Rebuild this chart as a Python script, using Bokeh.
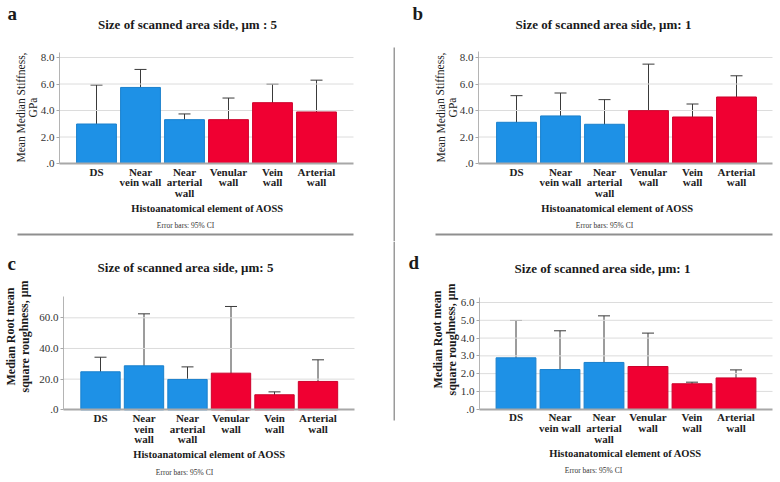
from bokeh.plotting import figure
from bokeh.models import (ColumnDataSource, Range1d, Whisker, TeeHead, Label,
                          BoxAnnotation, FixedTicker, LinearAxis)
from bokeh.layouts import column, row
from bokeh.embed import file_html
from bokeh.resources import INLINE

# ---------------- data ----------------
cats_ab = ["DS", "Near\nvein wall", "Near\narterial\nwall", "Venular\nwall", "Vein\nwall", "Arterial\nwall"]
cats_c = ["DS", "Near\nvein\nwall", "Near\narterial\nwall", "Venular\nwall", "Vein\nwall", "Arterial\nwall"]
cats_d = ["DS", "Near\nvein wall", "Near\narterial\nwall", "Venular\nwall", "Vein\nwall", "Arterial\nwall"]
group_colors = ["#1e91e6", "#1e91e6", "#1e91e6", "#f00032", "#f00032", "#f00032"]
edge_colors = ["#1a80cc", "#1a80cc", "#1a80cc", "#cc002b", "#cc002b", "#cc002b"]

a_mean = [2.98, 5.74, 3.31, 3.31, 4.59, 3.89]
a_lo = [0.13, 4.39, 2.91, 1.68, 3.21, 1.48]
a_hi = [5.92, 7.10, 3.74, 4.94, 5.99, 6.29]

b_mean = [3.11, 3.59, 2.96, 3.99, 3.51, 5.02]
b_lo = [1.18, 1.86, 1.10, 0.55, 2.56, 3.41]
b_hi = [5.12, 5.32, 4.82, 7.50, 4.49, 6.62]

c_mean = [24.8, 28.7, 19.8, 23.9, 9.8, 18.5]
c_lo = [15.6, 0.0, 11.7, 0.0, 8.0, 4.1]
c_hi = [34.3, 62.6, 28.0, 67.4, 11.7, 32.6]

d_mean = [2.89, 2.23, 2.63, 2.40, 1.43, 1.76]
d_lo = [0.81, 0.08, 0.0, 0.53, 1.37, 1.31]
d_hi = [4.99, 4.41, 5.25, 4.28, 1.52, 2.21]

ticks_ab = [0, 2, 4, 6, 8]
labels_ab = [".0", "2.0", "4.0", "6.0", "8.0"]
ticks_c = [0, 20, 40, 60]
labels_c = [".0", "20.0", "40.0", "60.0"]
ticks_d = [0, 1, 2, 3, 4, 5, 6]
labels_d = [".0", "1.0", "2.0", "3.0", "4.0", "5.0", "6.0"]

title_5a = "Size of scanned area side, \u03bcm : 5"
title_5c = "Size of scanned area side, \u03bcm: 5"
title_1 = "Size of scanned area side, \u03bcm: 1"
ylab_ab = "Mean Median Stiffness,\nGPa"
ylab_cd = "Median Root mean\nsquare roughness, \u03bcm"
xlab = "Histoanatomical element of AOSS"
note = "Error bars: 95% CI"

FONT = "Liberation Serif"


def panel(origin, size, cats, mean, lo, hi, ticks, tick_labels, geo, texts, ybold,
          rule=None, divider=None):
    # all layout positions given in page pixels; converted to this figure's frame
    ox, oy = origin
    W, H = size
    cx0, step, axis_px, right_px, y0_px, ppu, top_px = geo
    cx0 -= ox
    axis_px -= ox
    right_px -= ox
    y0_px -= oy
    top_px -= oy
    x_start = -cx0 / step
    x_end = (W - cx0) / step
    y_start = -(H - y0_px) / ppu
    y_end = y0_px / ppu
    x_axis_at = (axis_px - cx0) / step
    x_right = (right_px - cx0) / step
    y_top = (y0_px - top_px) / ppu

    def sx(px):
        return px - ox

    def sy(py):
        return H - (py - oy)

    p = figure(width=W, height=H, x_range=Range1d(x_start, x_end), y_range=Range1d(y_start, y_end),
               output_backend="svg", toolbar_location=None, min_border=0,
               x_axis_location=None, y_axis_location=None)
    p.outline_line_color = None
    p.background_fill_color = "white"
    p.border_fill_color = "white"
    p.xgrid.visible = False
    p.ygrid.visible = False

    xs = list(range(len(cats)))
    gt = [t for t in ticks if t != 0]
    p.segment(x0=[x_axis_at] * len(gt), x1=[x_right] * len(gt), y0=gt, y1=gt,
              line_color="#dcdcdc", line_width=1)

    src = ColumnDataSource(dict(x=xs, top=mean, lower=lo, upper=hi,
                                color=group_colors, edge=edge_colors))
    p.vbar(x="x", top="top", width=0.905, source=src, fill_color="color",
           line_color="edge", line_width=1)
    w = Whisker(source=src, base="x", upper="upper", lower="lower",
                line_color="#3a3a3a", line_width=1,
                upper_head=TeeHead(size=12, line_color="#3a3a3a", line_width=1),
                lower_head=TeeHead(size=12, line_color="#3a3a3a", line_width=1))
    p.add_layout(w)

    yaxis = LinearAxis(fixed_location=x_axis_at, bounds=(0, y_top),
                       ticker=FixedTicker(ticks=ticks),
                       major_label_overrides={t: s for t, s in zip(ticks, tick_labels)})
    yaxis.minor_tick_line_color = None
    yaxis.major_tick_out = 3
    yaxis.major_tick_in = 0
    yaxis.major_tick_line_color = "#a8a8a8"
    yaxis.axis_line_color = "#b4b4b4"
    yaxis.major_label_standoff = 2
    yaxis.major_label_text_font = FONT
    yaxis.major_label_text_font_size = "11px"
    yaxis.major_label_text_color = "#333333"
    p.add_layout(yaxis, "left")

    xaxis = LinearAxis(fixed_location=0, bounds=(x_axis_at, x_right),
                       ticker=FixedTicker(ticks=xs),
                       major_label_overrides={i: c for i, c in zip(xs, cats)})
    xaxis.axis_line_color = "#a8a8a8"
    xaxis.axis_line_width = 2
    xaxis.major_tick_line_color = None
    xaxis.major_tick_out = 0
    xaxis.major_tick_in = 0
    xaxis.minor_tick_line_color = None
    xaxis.major_label_standoff = 2
    xaxis.major_label_text_font = FONT
    xaxis.major_label_text_font_size = "11px"
    xaxis.major_label_text_font_style = "bold"
    xaxis.major_label_text_color = "#222222"
    xaxis.major_label_text_line_height = 0.9
    p.add_layout(xaxis, "below")

    def lab(text, pos, size, style, align="center", baseline="alphabetic", angle=0.0, color="#1a1a1a"):
        p.add_layout(Label(x=sx(pos[0]), y=sy(pos[1]), x_units="screen", y_units="screen", text=text,
                           text_font=FONT, text_font_size=size, text_font_style=style,
                           text_align=align, text_baseline=baseline, angle=angle,
                           text_color=color, text_line_height=1.0))

    letter, lpos, title, tpos, ylab, ypos, xpos, npos = texts
    lab(letter, lpos, "19px", "bold", align="left")
    lab(title, tpos, "13px", "bold")
    lab(ylab, ypos, "12px" if ybold else "11.5px", "bold" if ybold else "normal",
        baseline="middle", angle=1.5708)
    lab(xlab, xpos, "10.5px", "bold")
    lab(note, npos, "7.5px", "normal", color="#333333")

    if rule is not None:
        x0, x1, y = rule
        p.add_layout(BoxAnnotation(left=sx(x0), right=sx(x1), top=sy(y) + 1, bottom=sy(y) - 1,
                                   left_units="screen", right_units="screen",
                                   top_units="screen", bottom_units="screen",
                                   fill_color="#8f8f8f", fill_alpha=1.0, line_alpha=0.0))
    if divider is not None:
        x, y0, y1 = divider
        p.add_layout(BoxAnnotation(left=sx(x), right=sx(x) + 1.5, top=sy(y0), bottom=sy(y1),
                                   left_units="screen", right_units="screen",
                                   top_units="screen", bottom_units="screen",
                                   fill_color="#9a9a9a", fill_alpha=1.0, line_alpha=0.0))
    return p


# geo = (first bar centre x, px per category, y-axis x, right edge x, y=0 y, px per unit, axis top y)
pa = panel((0, 0), (390, 241), cats_ab, a_mean, a_lo, a_hi, ticks_ab, labels_ab,
           (96, 44, 59, 353, 163, 13.25, 52),
           ("a", (7, 13), title_5a, (187, 24), ylab_ab, (26.5, 107), (207, 208), (185, 225)),
           False, rule=(17, 353, 234))
pb = panel((390, 0), (388, 241), cats_ab, b_mean, b_lo, b_hi, ticks_ab, labels_ab,
           (516, 44, 478, 772, 163, 13.25, 51),
           ("b", (412, 13), title_1, (603, 24), ylab_ab, (446, 107), (617, 208), (604, 225)),
           False, rule=(435, 772, 234), divider=(393, 47, 241))
pc = panel((0, 241), (390, 239), cats_c, c_mean, c_lo, c_hi, ticks_c, labels_c,
           (100, 43.5, 63, 354, 409.3, 1.533, 296),
           ("c", (7, 263), title_5c, (185, 267), ylab_cd, (17, 336), (209, 454), (184, 472)),
           True)
pd_ = panel((390, 241), (388, 239), cats_d, d_mean, d_lo, d_hi, ticks_d, labels_d,
            (515.5, 44, 479, 772, 408.7, 17.78, 297),
            ("d", (408, 262), title_1, (602, 268), ylab_cd, (444, 339), (625, 453), (593, 470)),
            True, divider=(393, 241, 420))

layout = column(row(pa, pb), row(pc, pd_))
open("out.html", "w").write(file_html(layout, INLINE))
